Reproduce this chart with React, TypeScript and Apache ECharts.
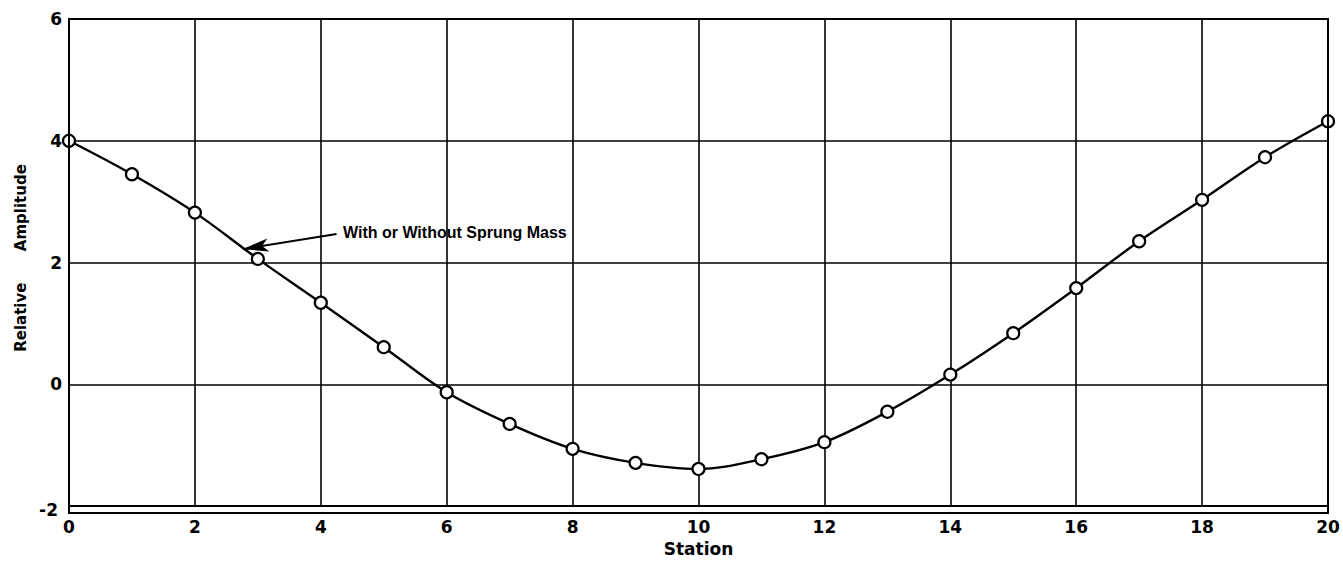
import React, { useEffect, useRef } from "react";
import * as echarts from "echarts";

const stations = [0, 1, 2, 3, 4, 5, 6, 7, 8, 9, 10, 11, 12, 13, 14, 15, 16, 17, 18, 19, 20];
const amplitude = [4.0, 3.45, 2.82, 2.06, 1.34, 0.61, -0.13, -0.65, -1.06, -1.29, -1.39, -1.23, -0.95, -0.45, 0.16, 0.84, 1.58, 2.35, 3.03, 3.73, 4.32];
const annotationText = "With or Without Sprung Mass";
const yTitle = "Relative      Amplitude";
const xTitle = "Station";
const arrowFrom = [4.25, 2.47];
const arrowTo = [2.76, 2.22];

const FONT = "'Liberation Sans', Arial, sans-serif";
const NUMFONT = "'DejaVu Sans', Verdana, sans-serif";

export default function App() {
  const ref = useRef<HTMLDivElement>(null);
  useEffect(() => {
    if (!ref.current) return;
    const chart = echarts.init(ref.current, null, { renderer: "svg" });
    const data = stations.map((s, i) => [s, amplitude[i]]);
    chart.setOption({
      animation: false,
      backgroundColor: "#ffffff",
      grid: { left: 69, right: 15, top: 19, bottom: 49, containLabel: false },
      xAxis: {
        type: "value",
        min: 0,
        max: 20,
        interval: 2,
        name: xTitle,
        nameLocation: "middle",
        nameGap: 32,
        nameTextStyle: { color: "#000", fontFamily: NUMFONT, fontWeight: "bold", fontSize: 17 },
        axisLine: { show: true, onZero: false, lineStyle: { color: "#000", width: 2 } },
        axisTick: { show: false },
        axisLabel: { color: "#000", fontFamily: NUMFONT, fontWeight: "bold", fontSize: 17, margin: 12 },
        splitLine: { show: true, lineStyle: { color: "#000", width: 1.6 } },
      },
      yAxis: {
        type: "value",
        min: -2,
        max: 6,
        interval: 2,
        axisLine: { show: true, onZero: false, lineStyle: { color: "#000", width: 2 } },
        axisTick: { show: false },
        axisLabel: {
          color: "#000",
          fontFamily: NUMFONT,
          fontWeight: "bold",
          fontSize: 17,
          margin: 7,
          formatter: (v: number) => (v === -2 ? "{low|-2}" : String(v)),
          rich: { low: { fontFamily: NUMFONT, fontWeight: "bold", fontSize: 17, color: "#000", padding: [8, 4, 0, 0] } },
        },
        splitLine: { show: true, lineStyle: { color: "#000", width: 1.6 } },
      },
      graphic: [
        {
          type: "rect",
          shape: { x: 69, y: 19, width: 1343 - 69 - 15, height: 562 - 19 - 49 },
          style: { fill: "none", stroke: "#000", lineWidth: 2 },
          z: 10,
        },
        {
          type: "text",
          x: 21,
          y: 258,
          rotation: Math.PI / 2,
          style: {
            text: yTitle,
            fill: "#000",
            font: `bold 15px ${NUMFONT}`,
            align: "center",
            verticalAlign: "middle",
          },
          z: 20,
        },
        {
          type: "text",
          x: 343,
          y: 232,
          style: {
            text: annotationText,
            fill: "#000",
            font: `bold 16px ${FONT}`,
            verticalAlign: "middle",
          },
          z: 20,
        },
      ],
      series: [
        {
          type: "line",
          data,
          smooth: 0.35,
          symbol: "circle",
          symbolSize: 12,
          showAllSymbol: true,
          lineStyle: { color: "#000", width: 2.4 },
          itemStyle: { color: "#fff", borderColor: "#000", borderWidth: 2.2 },
          z: 5,
          markLine: {
            silent: true,
            symbol: ["none", "arrow"],
            symbolSize: [10, 26],
            label: { show: false },
            lineStyle: { color: "#000", width: 2, type: "solid" },
            data: [[{ coord: arrowFrom }, { coord: arrowTo }]],
          },
        },
      ],
    });
    return () => chart.dispose();
  }, []);
  return <div ref={ref} style={{ width: 1343, height: 562, position: "absolute", left: 0, top: 0 }} />;
}
